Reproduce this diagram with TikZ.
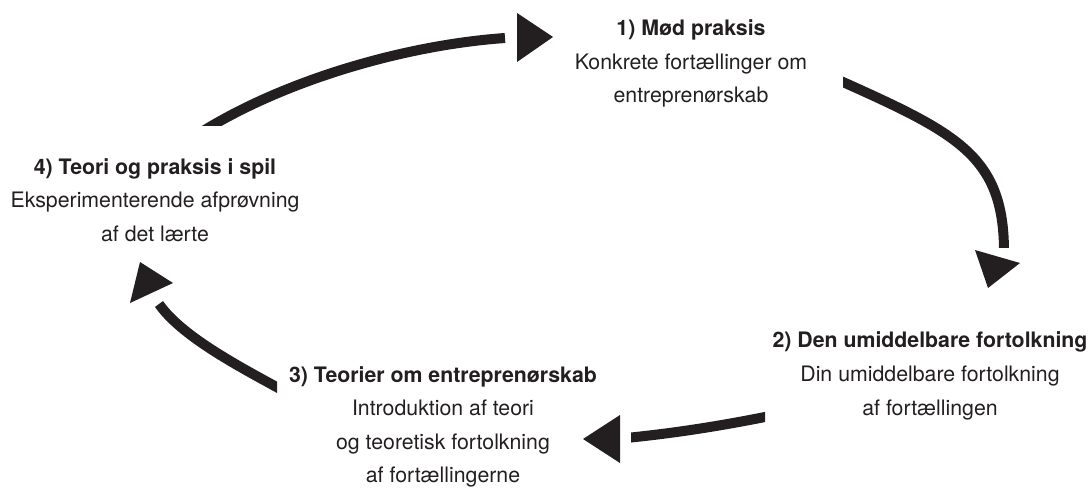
\documentclass[tikz,border=0pt]{standalone}
\usepackage{fontspec}
\setmainfont{TeX Gyre Heros}
\definecolor{ink}{HTML}{231F20}
\begin{document}
\begin{tikzpicture}[x=1pt,y=-1pt,
  lbl/.style={anchor=base, inner sep=0pt, text=ink, font=\fontsize{21.3pt}{34pt}\selectfont},
  ttl/.style={lbl, font=\fontsize{21.3pt}{34pt}\selectfont\bfseries},
  band/.style={draw=ink, line width=10pt},
  head/.style={fill=ink}]
\useasboundingbox (0,0) rectangle (1090,488);

% ---- labels ----
\node[ttl] (t1a) at (691,35) {1) Mød praksis};
\node[lbl] (t1b) at (691,69) {Konkrete fortællinger om};
\node[lbl] (t1c) at (691,102) {entreprenørskab};

\node[ttl] (t2a) at (930,347) {2) Den umiddelbare fortolkning};
\node[lbl] (t2b) at (930,381.5) {Din umiddelbare fortolkning};
\node[lbl] (t2c) at (930,415) {af fortællingen};

\node[ttl] (t3a) at (443,382) {3) Teorier om entreprenørskab};
\node[lbl] (t3b) at (443,415.5) {Introduktion af teori};
\node[lbl] (t3c) at (443,449) {og teoretisk fortolkning};
\node[lbl] (t3d) at (443,482) {af fortællingerne};

\node[ttl] (t4a) at (155,174) {4) Teori og praksis i spil};
\node[lbl] (t4b) at (155,207.5) {Eksperimenterende afprøvning};
\node[lbl] (t4c) at (155,241) {af det lærte};

% ---- arrow A (4 -> 1) ----
\coordinate (a0) at (204,130.5);
\coordinate (a1) at (505,38);
\begin{scope}
  \clip (0,0) rectangle (1090,125);
  \draw[band] (a0) .. controls (286,80) and (405,45) .. (a1);
\end{scope}
\coordinate (ah1) at (517,13);
\coordinate (ah2) at (517,62);
\coordinate (ah3) at (553,37);
\fill[head] (ah1) -- (ah2) -- (ah3) -- cycle;

% ---- arrow B (1 -> 2) ----
\coordinate (b0) at (834,78);
\coordinate (b1) at (1004,252);
\begin{scope}
  \clip (843,0) rectangle (1090,247);
  \draw[band] (b0) .. controls (957,133) and (1004,155) .. (b1);
\end{scope}
\coordinate (bh1) at (975,250);
\coordinate (bh2) at (1020,263);
\coordinate (bh3) at (988,288);
\fill[head] (bh1) -- (bh2) -- (bh3) -- cycle;

% ---- arrow C (2 -> 3) ----
\coordinate (c0) at (770,416);
\coordinate (c1) at (626,438);
\begin{scope}
  \clip (631,0) rectangle (765,488);
  \draw[band] (c0) .. controls (720,426) and (676,433) .. (c1);
\end{scope}
\coordinate (ch1) at (620,415);
\coordinate (ch2) at (620,463);
\coordinate (ch3) at (583,439);
\fill[head] (ch1) -- (ch2) -- (ch3) -- cycle;

% ---- arrow D (3 -> 4) ----
\coordinate (d0) at (282,390);
\coordinate (d1) at (159,304);
\begin{scope}
  \clip (0,0) rectangle (277,488);
  \draw[band] (d0) .. controls (242,368) and (182,337) .. (d1);
\end{scope}
\coordinate (dh1) at (173,283);
\coordinate (dh2) at (130,303);
\coordinate (dh3) at (140,262);
\fill[head] (dh1) -- (dh2) -- (dh3) -- cycle;
\end{tikzpicture}
\end{document}
